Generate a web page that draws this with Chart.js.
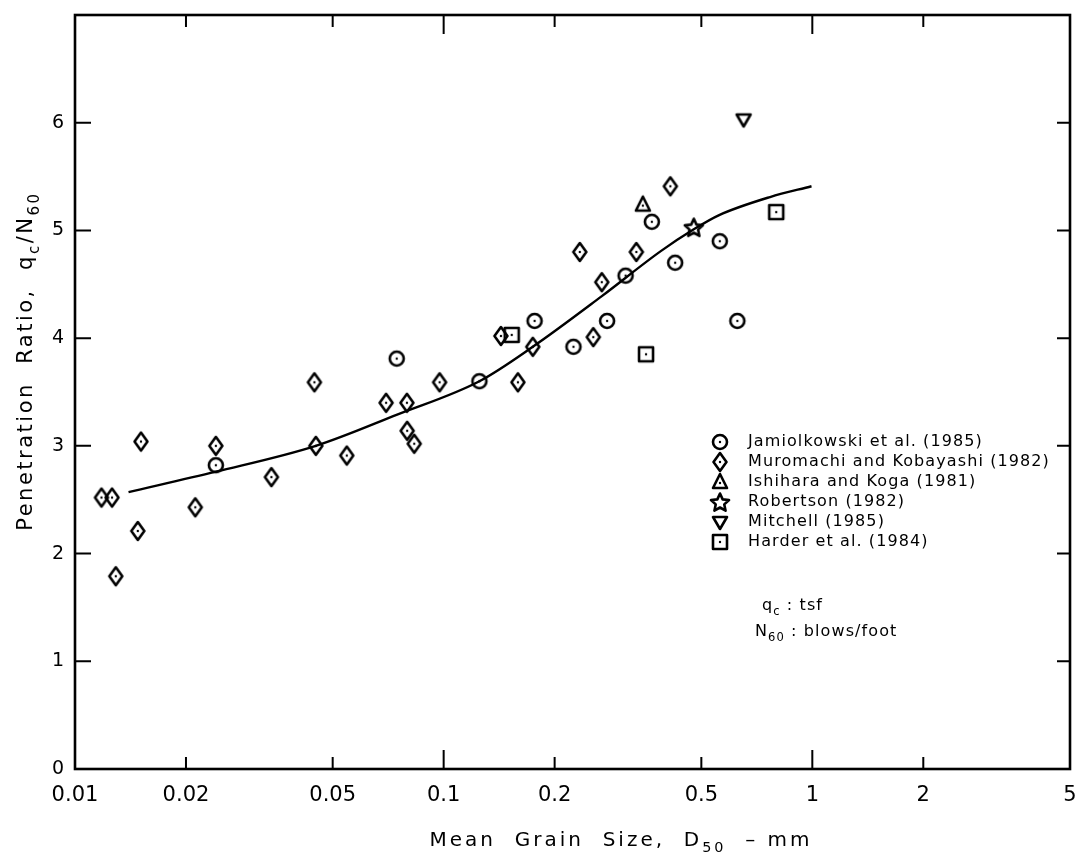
<!DOCTYPE html>
<html lang="en">
<head>
<meta charset="UTF-8">
<title>Penetration Ratio vs Mean Grain Size</title>
<script src="https://cdn.jsdelivr.net/npm/chart.js"></script>
<style>
    html, body { margin: 0; padding: 0; background: #fff; }
    #wrap { width: 1079px; height: 863px; }
</style>
</head>
<body>
<div id="wrap"><canvas id="chart" width="1079" height="863"></canvas></div>
<script>
// D50 (mm) and qc/N60
const jamiolkowskiX = [0.0241, 0.0746, 0.125, 0.1765, 0.225, 0.2775, 0.3115, 0.367, 0.4246, 0.561, 0.626];
const jamiolkowskiY = [2.82, 3.81, 3.60, 4.16, 3.92, 4.16, 4.58, 5.08, 4.70, 4.90, 4.16];

const muromachiX = [0.0118, 0.0126, 0.0129, 0.0148, 0.0151, 0.0212, 0.0241, 0.0341, 0.0446, 0.045, 0.0546,
                    0.0698, 0.0795, 0.0796, 0.0832, 0.0975, 0.143, 0.159, 0.1745, 0.234, 0.2546, 0.2685, 0.3332, 0.412];
const muromachiY = [2.52, 2.52, 1.79, 2.21, 3.04, 2.43, 3.00, 2.71, 3.59, 3.00, 2.91,
                    3.40, 3.40, 3.14, 3.02, 3.59, 4.02, 3.59, 3.92, 4.80, 4.01, 4.52, 4.80, 5.41];

const ishiharaX = [0.347];
const ishiharaY = [5.24];
const robertsonX = [0.477];
const robertsonY = [5.03];
const mitchellX = [0.651];
const mitchellY = [6.03];
const harderX = [0.153, 0.354, 0.798];
const harderY = [4.03, 3.85, 5.17];

// hand-drawn trend curve
const curveX = [0.01397, 0.0241, 0.045, 0.0748, 0.125, 0.1745, 0.2686, 0.389, 0.477, 0.557, 0.768, 0.995];
const curveY = [2.57, 2.76, 3.00, 3.29, 3.60, 3.92, 4.39, 4.81, 5.01, 5.14, 5.31, 5.41];

const xTicks = [0.01, 0.02, 0.05, 0.1, 0.2, 0.5, 1, 2, 5];
const xTickLabels = ['0.01', '0.02', '0.05', '0.1', '0.2', '0.5', '1', '2', '5'];
const yTicks = [0, 1, 2, 3, 4, 5, 6];

const legendNames = ['Jamiolkowski et al. (1985)', 'Muromachi and Kobayashi (1982)', 'Ishihara and Koga (1981)',
                     'Robertson (1982)', 'Mitchell (1985)', 'Harder et al. (1984)'];

const FONT = '"DejaVu Sans", sans-serif';

// open black markers, most with a centre dot like the original
function makeMarker(type) {
    const c = document.createElement('canvas');
    c.width = 24; c.height = 26;
    const g = c.getContext('2d');
    g.strokeStyle = '#000';
    g.fillStyle = '#000';
    g.lineWidth = 2.6;
    g.lineJoin = 'round';
    const cx = 12, cy = 13;
    g.beginPath();
    if (type === 'circle') {
        g.arc(cx, cy, 7, 0, Math.PI * 2);
    } else if (type === 'diamond') {
        g.moveTo(cx, cy - 9); g.lineTo(cx + 6.5, cy); g.lineTo(cx, cy + 9); g.lineTo(cx - 6.5, cy); g.closePath();
    } else if (type === 'triangle') {
        g.moveTo(cx, cy - 8); g.lineTo(cx + 7, cy + 6); g.lineTo(cx - 7, cy + 6); g.closePath();
    } else if (type === 'triangleDown') {
        g.moveTo(cx - 7, cy - 5); g.lineTo(cx + 7, cy - 5); g.lineTo(cx, cy + 7); g.closePath();
    } else if (type === 'square') {
        g.rect(cx - 7, cy - 7, 14, 14);
    } else if (type === 'star') {
        for (let i = 0; i < 10; i++) {
            const r = i % 2 === 0 ? 9.5 : 4.5;
            const a = -Math.PI / 2 + i * Math.PI / 5;
            const px = cx + r * Math.cos(a), py = cy + 1 + r * Math.sin(a);
            if (i === 0) g.moveTo(px, py); else g.lineTo(px, py);
        }
        g.closePath();
    }
    g.stroke();
    if (type !== 'star' && type !== 'triangleDown') {
        g.beginPath();
        g.arc(cx, cy + (type === 'triangle' ? 1 : 0), 1.2, 0, Math.PI * 2);
        g.fill();
    }
    return c;
}

const markers = {
    circle: makeMarker('circle'),
    diamond: makeMarker('diamond'),
    triangle: makeMarker('triangle'),
    star: makeMarker('star'),
    triangleDown: makeMarker('triangleDown'),
    square: makeMarker('square')
};
const legendMarkers = [markers.circle, markers.diamond, markers.triangle, markers.star, markers.triangleDown, markers.square];

function pts(xs, ys) {
    return xs.map((x, i) => ({ x: x, y: ys[i] }));
}

function scatterSet(label, xs, ys, marker) {
    return {
        type: 'scatter',
        label: label,
        data: pts(xs, ys),
        pointStyle: marker,
        pointRadius: 8,
        borderColor: '#000',
        backgroundColor: 'transparent'
    };
}

// text with a subscript, drawn piece by piece
function drawRich(ctx, parts, x, y, size, spacing) {
    let cx = x;
    parts.forEach(p => {
        const fs = p.sub ? size * 0.72 : size;
        ctx.font = fs + 'px ' + FONT;
        ctx.letterSpacing = spacing + 'px';
        ctx.fillText(p.t, cx, y + (p.sub ? size * 0.32 : 0));
        cx += ctx.measureText(p.t).width;
    });
    return cx - x;
}

function richWidth(ctx, parts, size, spacing) {
    let w = 0;
    parts.forEach(p => {
        const fs = p.sub ? size * 0.72 : size;
        ctx.font = fs + 'px ' + FONT;
        ctx.letterSpacing = spacing + 'px';
        w += ctx.measureText(p.t).width;
    });
    return w;
}

const framePlugin = {
    id: 'frame',
    beforeDatasetsDraw(chart) {
        const ctx = chart.ctx;
        const a = chart.chartArea;
        const xs = chart.scales.x, ys = chart.scales.y;
        ctx.save();
        ctx.strokeStyle = '#000';
        ctx.lineWidth = 2.6;
        ctx.strokeRect(a.left, a.top, a.right - a.left, a.bottom - a.top);
        ctx.lineWidth = 2;
        ctx.beginPath();
        xTicks.forEach(v => {
            if (v === xTicks[0] || v === xTicks[xTicks.length - 1]) return;
            const px = xs.getPixelForValue(v);
            const len = (v === 0.1 || v === 1) ? 19 : 12;
            ctx.moveTo(px, a.bottom); ctx.lineTo(px, a.bottom - len);
            ctx.moveTo(px, a.top); ctx.lineTo(px, a.top + len);
        });
        yTicks.forEach(v => {
            if (v === 0) return;
            const py = ys.getPixelForValue(v);
            ctx.moveTo(a.left, py); ctx.lineTo(a.left + 16, py);
            ctx.moveTo(a.right, py); ctx.lineTo(a.right - 13, py);
        });
        ctx.stroke();
        ctx.restore();
    },
    afterDraw(chart) {
        const ctx = chart.ctx;
        const a = chart.chartArea;
        ctx.save();
        ctx.fillStyle = '#000';
        ctx.textBaseline = 'alphabetic';

        // x axis title
        const xTitle = [{ t: 'Mean  Grain  Size,  D' }, { t: '50', sub: true }, { t: '  – mm' }];
        const xw = richWidth(ctx, xTitle, 20, 3);
        drawRich(ctx, xTitle, 621 - xw / 2, 846, 20, 3);

        // y axis title, rotated
        const yTitle = [{ t: 'Penetration  Ratio,  q' }, { t: 'c', sub: true }, { t: '/N' }, { t: '60', sub: true }];
        const yw = richWidth(ctx, yTitle, 21, 2.5);
        ctx.save();
        ctx.translate(32, 361);
        ctx.rotate(-Math.PI / 2);
        drawRich(ctx, yTitle, -yw / 2, 0, 21, 2.5);
        ctx.restore();

        // legend inside the plot
        const lx = 720, ly = a.top + 427;
        ctx.textBaseline = 'middle';
        legendNames.forEach((name, i) => {
            const y = ly + i * 20;
            const m = legendMarkers[i];
            ctx.drawImage(m, lx - m.width / 2, y - m.height / 2);
            ctx.font = '16px ' + FONT;
            ctx.letterSpacing = '1.1px';
            ctx.fillText(name, lx + 28, y);
        });
        ctx.textBaseline = 'alphabetic';
        drawRich(ctx, [{ t: 'q' }, { t: 'c', sub: true }, { t: ' : tsf' }], lx + 42, ly + 168, 16, 1.1);
        drawRich(ctx, [{ t: 'N' }, { t: '60', sub: true }, { t: ' : blows/foot' }], lx + 35, ly + 194, 16, 1.1);
        ctx.restore();
    }
};

const ctx = document.getElementById('chart').getContext('2d');
new Chart(ctx, {
    data: {
        datasets: [
            {
                type: 'line',
                label: 'trend',
                data: pts(curveX, curveY),
                borderColor: '#000',
                borderWidth: 2.4,
                pointRadius: 0,
                fill: false,
                cubicInterpolationMode: 'monotone'
            },
            scatterSet(legendNames[0], jamiolkowskiX, jamiolkowskiY, markers.circle),
            scatterSet(legendNames[1], muromachiX, muromachiY, markers.diamond),
            scatterSet(legendNames[2], ishiharaX, ishiharaY, markers.triangle),
            scatterSet(legendNames[3], robertsonX, robertsonY, markers.star),
            scatterSet(legendNames[4], mitchellX, mitchellY, markers.triangleDown),
            scatterSet(legendNames[5], harderX, harderY, markers.square)
        ]
    },
    options: {
        responsive: false,
        animation: false,
        layout: { padding: { top: 15, right: 0, left: 0, bottom: 0 } },
        plugins: {
            legend: { display: false },
            tooltip: { enabled: false }
        },
        scales: {
            x: {
                type: 'logarithmic',
                min: 0.01,
                max: 5,
                afterBuildTicks: s => { s.ticks = xTicks.map(v => ({ value: v })); },
                afterFit: s => { s.height = 94; s.paddingLeft = 0; s.paddingRight = 0; },
                ticks: {
                    autoSkip: false,
                    maxRotation: 0,
                    padding: 6,
                    color: '#000',
                    font: { family: FONT, size: 21 },
                    callback: (v, i) => xTickLabels[i]
                },
                grid: { display: false },
                border: { display: false }
            },
            y: {
                type: 'linear',
                min: 0,
                max: 7,
                afterBuildTicks: s => { s.ticks = yTicks.map(v => ({ value: v })); },
                afterFit: s => { s.width = 75; s.paddingTop = 0; s.paddingBottom = 0; },
                ticks: {
                    padding: 3,
                    color: '#000',
                    font: { family: FONT, size: 19 }
                },
                grid: { display: false },
                border: { display: false }
            }
        }
    },
    plugins: [framePlugin]
});
</script>
</body>
</html>
